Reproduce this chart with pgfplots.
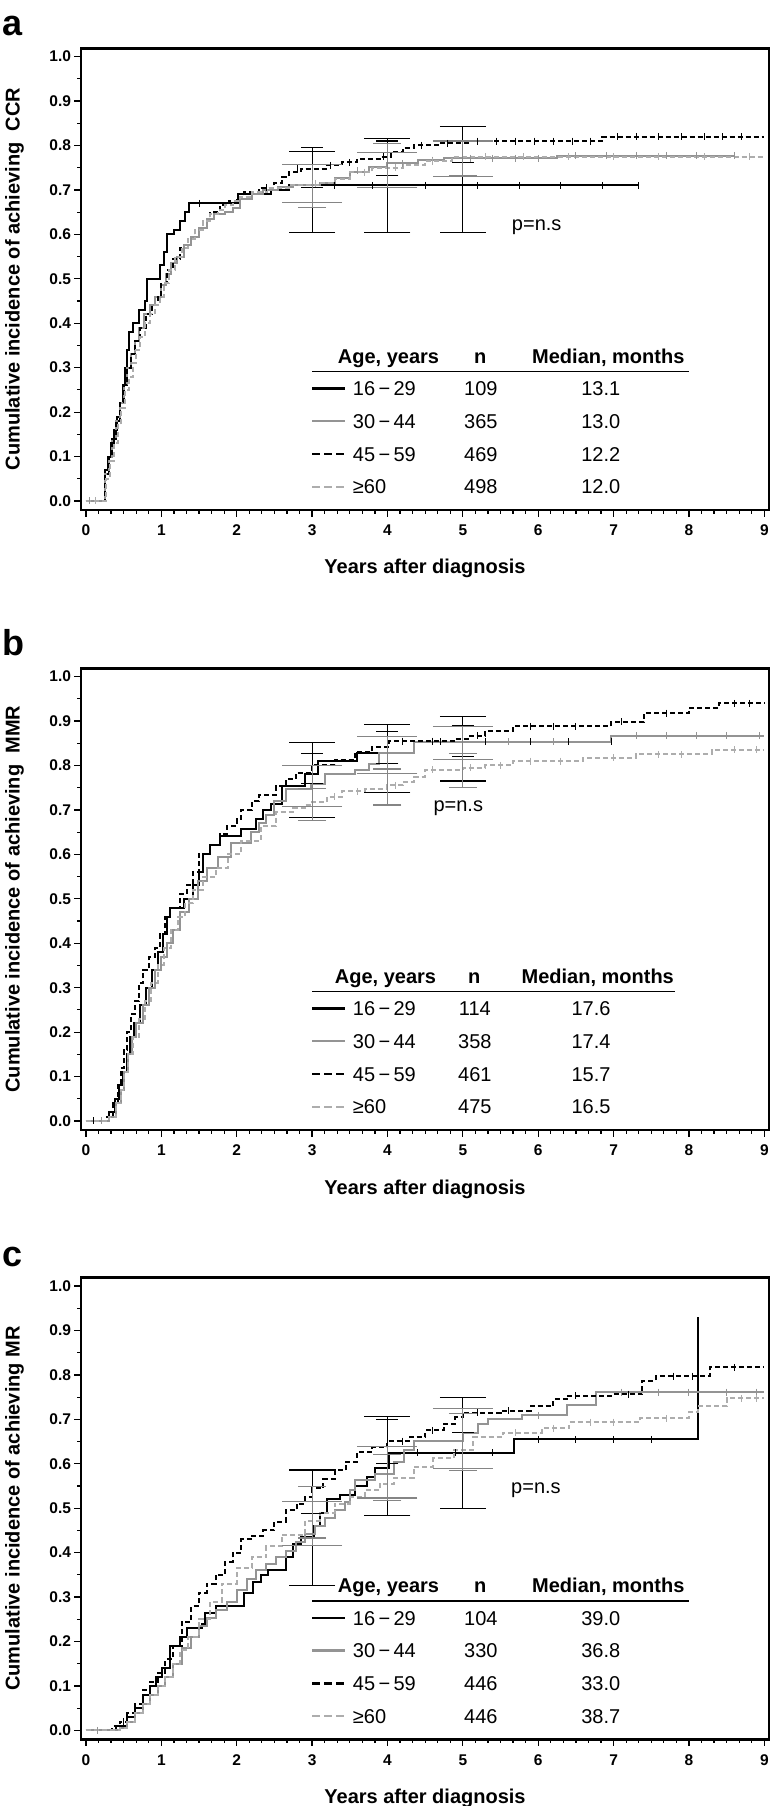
\documentclass[border=0pt]{standalone}
\usepackage{pgfplots}
\pgfplotsset{compat=1.18}
\usepackage{fontspec}
\setmainfont{Liberation Sans}
\definecolor{gA}{gray}{0.58}
\definecolor{gB}{gray}{0.68}
\definecolor{gE}{gray}{0.52}

\pgfplotsset{
  panel/.style={
    scale only axis, width=688pt, height=461.7pt,
    anchor=north west,
    xmin=-0.066, xmax=9.062, ymin=-0.0203, ymax=1.0187,
    axis line style={line width=2.5pt},
    tick style={black, line width=1.2pt},
    tick align=outside, xtick pos=left, ytick pos=left,
    xtick={0,1,2,3,4,5,6,7,8,9}, minor x tick num=5,
    ytick={0,0.1,0.2,0.3,0.4,0.5,0.6,0.7,0.8,0.9,1},
    minor y tick num=1,
    major tick length=6.5pt, minor tick length=3.5pt,
    /pgf/number format/assume math mode=true,
    xticklabel style={font=\bfseries\fontsize{15.5}{17}\selectfont, yshift=-5pt},
    yticklabel style={font=\bfseries\fontsize{15.5}{17}\selectfont,
      /pgf/number format/fixed, /pgf/number format/fixed zerofill,
      /pgf/number format/precision=1},
    xlabel={Years after diagnosis},
    xlabel style={font=\bfseries\fontsize{20}{24}\selectfont,
      at={(axis description cs:0.5,-0.1386)}, anchor=base},
    ylabel style={font=\bfseries\fontsize{20}{24}\selectfont,
      at={(axis description cs:-0.0967,0.5)}, anchor=center},
  },
  g1/.style={black, line width=2pt, const plot, mark=none},
  g2/.style={gA, line width=2pt, const plot, mark=none},
  g3/.style={black, line width=2pt, const plot, mark=none, dash pattern=on 5pt off 3pt},
  g4/.style={gB, line width=2pt, const plot, mark=none, dash pattern=on 5pt off 3pt},
  cm/.style={only marks, mark=|, mark size=3.5pt, #1, mark options={line width=1pt, solid, #1}},
  eb/.style 2 args={draw=none, mark=none, forget plot,
    error bars/y dir=both, error bars/y explicit,
    error bars/error bar style={draw=#1, line width=1.1pt, solid},
    error bars/error mark options={draw=#1, rotate=90, mark size=#2, line width=1.1pt, solid}},
}

\newcommand{\lhead}[4]{%
  \node[anchor=base west, inner sep=0pt, font=\bfseries\fontsize{20}{24}\selectfont] at (axis cs:#1,0.310) {Age, years};
  \node[anchor=base, inner sep=0pt, font=\bfseries\fontsize{20}{24}\selectfont] at (axis cs:#2,0.310) {n};
  \node[anchor=base, inner sep=0pt, font=\bfseries\fontsize{20}{24}\selectfont] at (axis cs:#3,0.310) {Median, months};
  \draw[black, line width=1.5pt] (axis cs:3.0,0.291) -- (axis cs:#4,0.291);
}
\newcommand{\lrow}[7]{%
  \draw[#2] (axis cs:3.0,#1) -- (axis cs:3.44,#1);
  \node[anchor=base west, inner sep=0pt, yshift=-7.2pt, font=\fontsize{20}{24}\selectfont] at (axis cs:3.54,#1) {#3};
  \node[anchor=base, inner sep=0pt, yshift=-7.2pt, font=\fontsize{20}{24}\selectfont] at (axis cs:#6,#1) {#4};
  \node[anchor=base, inner sep=0pt, yshift=-7.2pt, font=\fontsize{20}{24}\selectfont] at (axis cs:#7,#1) {#5};
}
\tikzset{
  l1/.style={black, line width=2.5pt},
  l2/.style={gA, line width=2.5pt},
  l3/.style={black, line width=2.5pt, dash pattern=on 8pt off 4pt},
  l4/.style={gB, line width=2.5pt, dash pattern=on 8pt off 4pt},
}

\begin{document}
\begin{tikzpicture}
\useasboundingbox (0,0) rectangle (773pt,-1806pt);

\node[anchor=base west, inner sep=0pt, font=\bfseries\fontsize{36}{40}\selectfont] at (2pt,-36pt) {a};
\node[anchor=base west, inner sep=0pt, font=\bfseries\fontsize{36}{40}\selectfont] at (2pt,-655pt) {b};
\node[anchor=base west, inner sep=0pt, font=\bfseries\fontsize{36}{40}\selectfont] at (2pt,-1266.7pt) {c};

%%%%%%%%%%%%%%%%%%%%%%%% PANEL A
\begin{axis}[panel, at={(81pt,-48.3pt)},
  ylabel={Cumulative incidence of achieving\ \ CCR}]
% 16-29
\addplot[g1] coordinates {(0,0)(0.25,0.07)(0.29,0.10)(0.33,0.13)(0.37,0.16)(0.41,0.19)(0.45,0.22)(0.49,0.26)(0.52,0.30)(0.55,0.34)(0.57,0.38)(0.62,0.40)(0.70,0.43)(0.78,0.45)(0.81,0.50)(0.98,0.53)(1.03,0.56)(1.08,0.60)(1.17,0.61)(1.25,0.63)(1.31,0.65)(1.37,0.67)(2.02,0.69)(2.45,0.70)(2.70,0.71)(7.33,0.71)};
% 30-44
\addplot[g2] coordinates {(0,0)(0.25,0.06)(0.30,0.10)(0.35,0.14)(0.40,0.18)(0.45,0.22)(0.50,0.26)(0.55,0.30)(0.60,0.33)(0.65,0.36)(0.70,0.39)(0.77,0.42)(0.85,0.44)(0.92,0.46)(1.0,0.485)(1.06,0.51)(1.13,0.535)(1.21,0.55)(1.3,0.575)(1.4,0.595)(1.5,0.615)(1.6,0.635)(1.7,0.645)(1.85,0.65)(1.95,0.66)(2.05,0.68)(2.2,0.69)(2.35,0.70)(2.55,0.707)(2.75,0.711)(3.1,0.715)(3.3,0.727)(3.5,0.74)(3.75,0.752)(4.0,0.76)(4.4,0.767)(4.75,0.771)(6.25,0.777)(8.6,0.777)};
% 45-59
\addplot[g3] coordinates {(0,0)(0.25,0.06)(0.30,0.10)(0.35,0.14)(0.40,0.18)(0.45,0.22)(0.50,0.26)(0.55,0.30)(0.60,0.33)(0.65,0.36)(0.72,0.39)(0.80,0.42)(0.88,0.44)(0.95,0.46)(1.0,0.49)(1.07,0.52)(1.15,0.545)(1.25,0.57)(1.35,0.59)(1.45,0.61)(1.55,0.63)(1.65,0.65)(1.78,0.665)(1.9,0.675)(2.0,0.685)(2.1,0.695)(2.3,0.705)(2.5,0.715)(2.6,0.73)(2.7,0.74)(2.85,0.748)(3.2,0.755)(3.4,0.762)(3.6,0.77)(3.9,0.775)(4.05,0.785)(4.2,0.795)(4.35,0.80)(4.7,0.805)(5.1,0.81)(6.85,0.82)(9.0,0.82)};
% >=60
\addplot[g4] coordinates {(0,0)(0.27,0.05)(0.32,0.09)(0.37,0.13)(0.42,0.17)(0.47,0.21)(0.52,0.25)(0.57,0.28)(0.62,0.31)(0.67,0.34)(0.72,0.37)(0.78,0.40)(0.85,0.42)(0.92,0.44)(0.98,0.46)(1.03,0.49)(1.10,0.52)(1.18,0.55)(1.27,0.57)(1.35,0.59)(1.45,0.61)(1.55,0.63)(1.65,0.645)(1.75,0.655)(1.85,0.665)(1.95,0.675)(2.05,0.685)(2.2,0.695)(2.4,0.705)(2.7,0.71)(3.1,0.715)(3.3,0.725)(3.5,0.74)(3.8,0.75)(4.2,0.755)(4.5,0.765)(4.85,0.775)(9.0,0.775)};
% censor marks
\addplot[cm=black] coordinates {(1.5,0.67)(3.3,0.71)(3.8,0.71)(4.5,0.71)(5.2,0.71)(5.75,0.71)(6.3,0.71)(6.85,0.71)(7.33,0.71)};
\addplot[cm=gA] coordinates {(0.05,0)(3.0,0.715)(3.6,0.743)(4.2,0.76)(4.6,0.767)(5.1,0.771)(5.4,0.771)(5.7,0.771)(6.0,0.771)(6.5,0.777)(6.9,0.777)(7.3,0.777)(7.7,0.777)(8.1,0.777)(8.6,0.777)};
\addplot[cm=black] coordinates {(2.4,0.705)(2.8,0.748)(3.25,0.755)(3.5,0.762)(3.95,0.775)(4.45,0.80)(4.8,0.805)(5.2,0.81)(5.45,0.81)(5.7,0.81)(5.95,0.81)(6.2,0.81)(6.45,0.81)(6.7,0.81)(7.05,0.82)(7.3,0.82)(7.6,0.82)(7.9,0.82)(8.2,0.82)(8.45,0.82)(8.7,0.82)};
\addplot[cm=gB] coordinates {(0.12,0)(3.05,0.715)(3.7,0.74)(4.1,0.75)(4.6,0.765)(5.3,0.775)(5.8,0.775)(6.4,0.775)(7.0,0.775)(7.6,0.775)(8.2,0.775)(8.8,0.775)};
% confidence intervals
\addplot[eb={black}{23pt}] coordinates {(3,0.696) +- (0,0.091) (4,0.71) +- (0,0.105) (5,0.724) +- (0,0.119)};
\addplot[eb={black}{11pt}] coordinates {(3,0.75) +- (0,0.045) (4,0.7715) +- (0,0.0385) (5,0.802) +- (0,0.041)};
\addplot[eb={gE}{30pt}] coordinates {(3,0.7145) +- (0,0.0425) (4,0.745) +- (0,0.04) (5,0.77) +- (0,0.04)};
\addplot[eb={gE}{14pt}] coordinates {(3,0.7085) +- (0,0.0485) (4,0.755) +- (0,0.05) (5,0.7715) +- (0,0.0385)};
\node[font=\fontsize{20}{24}\selectfont] at (axis cs:5.98,0.615) {p=n.s};
\lhead{3.34}{5.23}{6.93}{8.0}
\lrow{0.253}{l1}{16\,−\,29}{109}{13.1}{5.24}{6.83}
\lrow{0.180}{l2}{30\,−\,44}{365}{13.0}{5.24}{6.83}
\lrow{0.106}{l3}{45\,−\,59}{469}{12.2}{5.24}{6.83}
\lrow{0.032}{l4}{≥60}{498}{12.0}{5.24}{6.83}
\end{axis}

%%%%%%%%%%%%%%%%%%%%%%%% PANEL B
\begin{axis}[panel, at={(81pt,-668.3pt)},
  ylabel={Cumulative incidence of achieving\ \ MMR}]
\addplot[g1] coordinates {(0,0)(0.30,0.02)(0.38,0.05)(0.44,0.08)(0.49,0.11)(0.54,0.15)(0.58,0.19)(0.64,0.22)(0.72,0.26)(0.80,0.30)(0.88,0.34)(0.96,0.38)(1.02,0.42)(1.08,0.46)(1.12,0.48)(1.3,0.50)(1.42,0.53)(1.5,0.56)(1.55,0.60)(1.65,0.62)(1.78,0.642)(2.06,0.657)(2.25,0.68)(2.35,0.70)(2.45,0.713)(2.6,0.753)(2.9,0.78)(3.08,0.811)(3.6,0.829)(4.35,0.853)(6.97,0.853)};
\addplot[g2] coordinates {(0,0)(0.30,0.01)(0.40,0.04)(0.46,0.07)(0.51,0.11)(0.56,0.15)(0.61,0.19)(0.67,0.22)(0.75,0.26)(0.83,0.30)(0.92,0.34)(1.0,0.37)(1.07,0.40)(1.15,0.43)(1.25,0.47)(1.37,0.50)(1.48,0.54)(1.6,0.57)(1.75,0.595)(1.93,0.626)(2.19,0.65)(2.3,0.67)(2.39,0.688)(2.5,0.72)(2.65,0.746)(2.98,0.759)(3.17,0.78)(3.57,0.79)(3.76,0.804)(3.89,0.829)(4.35,0.853)(6.97,0.867)(9.0,0.867)};
\addplot[g3] coordinates {(0,0)(0.28,0.01)(0.36,0.04)(0.42,0.08)(0.46,0.12)(0.50,0.16)(0.55,0.20)(0.60,0.24)(0.65,0.27)(0.70,0.31)(0.76,0.34)(0.84,0.37)(0.92,0.39)(0.98,0.42)(1.05,0.46)(1.12,0.48)(1.25,0.51)(1.34,0.53)(1.42,0.56)(1.5,0.60)(1.65,0.62)(1.78,0.645)(1.87,0.663)(2.0,0.68)(2.06,0.70)(2.2,0.72)(2.29,0.734)(2.52,0.753)(2.65,0.77)(2.78,0.784)(3.0,0.80)(3.3,0.813)(3.57,0.83)(3.8,0.842)(4.02,0.855)(4.9,0.86)(5.1,0.867)(5.3,0.878)(5.66,0.888)(6.97,0.898)(7.4,0.918)(8.0,0.929)(8.4,0.94)(9.0,0.94)};
\addplot[g4] coordinates {(0,0)(0.30,0.01)(0.40,0.04)(0.46,0.07)(0.51,0.11)(0.56,0.15)(0.62,0.19)(0.70,0.23)(0.78,0.27)(0.86,0.31)(0.95,0.35)(1.04,0.39)(1.13,0.43)(1.22,0.46)(1.32,0.49)(1.42,0.52)(1.55,0.55)(1.73,0.57)(1.88,0.60)(2.06,0.63)(2.32,0.663)(2.52,0.696)(2.75,0.705)(2.9,0.712)(3.0,0.717)(3.2,0.73)(3.4,0.742)(3.7,0.748)(4.0,0.755)(4.2,0.763)(4.35,0.775)(4.5,0.79)(5.0,0.795)(5.3,0.80)(5.66,0.81)(6.6,0.817)(7.3,0.825)(8.3,0.835)(9.0,0.835)};
\addplot[cm=black] coordinates {(0.1,0)(4.7,0.853)(5.3,0.853)(5.9,0.853)(6.4,0.853)(6.97,0.853)};
\addplot[cm=gA] coordinates {(0.2,0)(5.6,0.853)(6.2,0.853)(7.3,0.867)(7.7,0.867)(8.1,0.867)(8.5,0.867)(8.93,0.867)};
\addplot[cm=black] coordinates {(4.2,0.855)(4.6,0.855)(5.2,0.867)(5.9,0.888)(6.2,0.888)(6.5,0.888)(7.1,0.898)(7.7,0.918)(8.6,0.94)(8.8,0.94)};
\addplot[cm=gB] coordinates {(3.3,0.73)(3.6,0.742)(4.1,0.755)(4.6,0.79)(5.1,0.795)(5.5,0.80)(5.9,0.81)(6.3,0.81)(7.0,0.817)(7.6,0.825)(7.9,0.825)(8.6,0.835)(8.9,0.835)};
\addplot[eb={black}{23pt}] coordinates {(3,0.767) +- (0,0.085) (4,0.816) +- (0,0.076) (5,0.838) +- (0,0.073)};
\addplot[eb={black}{11pt}] coordinates {(3,0.7935) +- (0,0.0335) (4,0.8405) +- (0,0.0365) (5,0.855) +- (0,0.035)};
\addplot[eb={gE}{30pt}] coordinates {(3,0.7535) +- (0,0.0465) (4,0.823) +- (0,0.042) (5,0.851) +- (0,0.037)};
\addplot[eb={gE}{14pt}] coordinates {(3,0.713) +- (0,0.036) (4,0.7515) +- (0,0.0405) (5,0.789) +- (0,0.039)};
\node[font=\fontsize{20}{24}\selectfont] at (axis cs:4.94,0.703) {p=n.s};
\lhead{3.30}{5.15}{6.79}{7.82}
\lrow{0.253}{l1}{16\,−\,29}{114}{17.6}{5.16}{6.70}
\lrow{0.180}{l2}{30\,−\,44}{358}{17.4}{5.16}{6.70}
\lrow{0.106}{l3}{45\,−\,59}{461}{15.7}{5.16}{6.70}
\lrow{0.032}{l4}{≥60}{475}{16.5}{5.16}{6.70}
\end{axis}

%%%%%%%%%%%%%%%%%%%%%%%% PANEL C
\begin{axis}[panel, at={(81pt,-1277.7pt)},
  ylabel={Cumulative incidence of achieving MR}]
\addplot[g1] coordinates {(0,0)(0.40,0.01)(0.55,0.03)(0.65,0.05)(0.75,0.08)(0.85,0.10)(0.93,0.12)(1.01,0.14)(1.11,0.19)(1.25,0.21)(1.34,0.23)(1.54,0.24)(1.58,0.265)(1.73,0.28)(2.1,0.31)(2.22,0.335)(2.32,0.35)(2.42,0.36)(2.65,0.39)(2.75,0.42)(2.85,0.435)(3.02,0.46)(3.1,0.49)(3.2,0.52)(3.37,0.53)(3.57,0.55)(3.73,0.57)(3.83,0.59)(4.02,0.625)(5.68,0.655)(8.12,0.93)};
\addplot[g2] coordinates {(0,0)(0.45,0.005)(0.55,0.02)(0.65,0.04)(0.75,0.06)(0.85,0.08)(0.95,0.10)(1.05,0.12)(1.15,0.15)(1.28,0.186)(1.4,0.21)(1.5,0.235)(1.6,0.254)(1.73,0.27)(1.87,0.29)(2.0,0.315)(2.13,0.341)(2.26,0.36)(2.39,0.375)(2.52,0.39)(2.65,0.404)(2.78,0.425)(2.91,0.443)(3.04,0.46)(3.17,0.477)(3.3,0.495)(3.44,0.515)(3.5,0.54)(3.57,0.564)(3.83,0.578)(4.09,0.603)(4.22,0.63)(4.35,0.651)(5.0,0.67)(5.2,0.69)(5.33,0.70)(5.79,0.709)(6.38,0.733)(6.77,0.761)(9.0,0.761)};
\addplot[g3] coordinates {(0,0)(0.35,0.01)(0.45,0.02)(0.55,0.04)(0.65,0.06)(0.75,0.09)(0.85,0.11)(0.95,0.13)(1.05,0.16)(1.15,0.19)(1.27,0.245)(1.4,0.28)(1.5,0.31)(1.6,0.33)(1.72,0.35)(1.85,0.38)(1.95,0.40)(2.06,0.43)(2.19,0.438)(2.35,0.45)(2.5,0.47)(2.65,0.496)(2.8,0.51)(2.9,0.525)(3.0,0.545)(3.15,0.565)(3.3,0.585)(3.45,0.605)(3.6,0.627)(3.8,0.637)(4.0,0.651)(4.3,0.66)(4.5,0.675)(4.75,0.69)(4.9,0.705)(5.0,0.715)(5.5,0.719)(5.9,0.73)(6.2,0.745)(6.4,0.753)(7.0,0.757)(7.38,0.787)(7.56,0.797)(8.28,0.817)(9.0,0.817)};
\addplot[g4] coordinates {(0,0)(0.45,0.005)(0.55,0.02)(0.65,0.04)(0.75,0.06)(0.85,0.08)(0.95,0.10)(1.05,0.12)(1.15,0.15)(1.25,0.18)(1.35,0.21)(1.5,0.25)(1.65,0.29)(1.8,0.33)(2.0,0.365)(2.2,0.39)(2.39,0.414)(2.6,0.44)(2.91,0.472)(3.1,0.49)(3.3,0.51)(3.5,0.525)(3.7,0.54)(3.9,0.555)(4.09,0.569)(4.35,0.593)(4.61,0.612)(4.88,0.632)(5.14,0.66)(5.53,0.67)(6.05,0.68)(6.41,0.694)(7.35,0.702)(8.0,0.716)(8.12,0.729)(8.5,0.747)(9.0,0.747)};
\addplot[cm=black] coordinates {(4.4,0.625)(4.9,0.625)(5.4,0.625)(6.0,0.655)(6.5,0.655)(7.0,0.655)(7.5,0.655)};
\addplot[cm=gA] coordinates {(0.15,0)(6.0,0.709)(7.1,0.761)(7.6,0.761)(8.0,0.761)(8.5,0.761)(8.9,0.761)};
\addplot[cm=black] coordinates {(0.5,0.02)(4.2,0.651)(4.6,0.675)(5.2,0.715)(5.6,0.719)(6.5,0.753)(7.2,0.757)(7.8,0.797)(8.05,0.797)(8.6,0.817)};
\addplot[cm=gB] coordinates {(5.7,0.67)(6.2,0.68)(6.7,0.694)(7.0,0.694)(7.7,0.702)(8.7,0.747)(8.9,0.747)};
\addplot[eb={black}{23pt}] coordinates {(3,0.4565) +- (0,0.1295) (4,0.595) +- (0,0.112) (5,0.6245) +- (0,0.1245)};
\addplot[eb={black}{11pt}] coordinates {(3,0.537) +- (0,0.049) (4,0.65) +- (0,0.05) (5,0.7095) +- (0,0.0395)};
\addplot[eb={gE}{30pt}] coordinates {(3,0.466) +- (0,0.049) (4,0.5805) +- (0,0.0575) (5,0.6575) +- (0,0.0675)};
\addplot[eb={gE}{14pt}] coordinates {(3,0.4905) +- (0,0.0575) (4,0.569) +- (0,0.051) (5,0.649) +- (0,0.064)};
\node[font=\fontsize{20}{24}\selectfont] at (axis cs:5.97,0.54) {p=n.s};
\lhead{3.34}{5.23}{6.93}{8.0}
\lrow{0.253}{l1}{16\,−\,29}{104}{39.0}{5.24}{6.83}
\lrow{0.180}{l2}{30\,−\,44}{330}{36.8}{5.24}{6.83}
\lrow{0.106}{l3}{45\,−\,59}{446}{33.0}{5.24}{6.83}
\lrow{0.032}{l4}{≥60}{446}{38.7}{5.24}{6.83}
\end{axis}
\end{tikzpicture}
\end{document}
